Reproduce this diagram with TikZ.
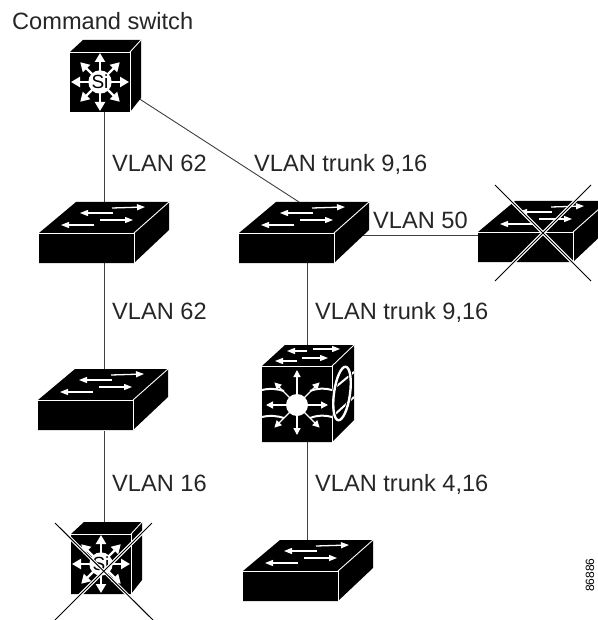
\documentclass[tikz,border=0pt]{standalone}
\usepackage{fontspec}
\setmainfont{Liberation Sans}
\usetikzlibrary{arrows.meta}
\tikzset{
  x=1pt,y=-1pt,
  link/.style={draw=black!75,line width=0.9pt},
  lbl/.style={font=\fontsize{23.6}{26}\selectfont,anchor=base west,inner sep=0pt,text=black!85},
  flow/.style={draw=white,line width=1.3pt,-{Triangle[width=7pt,length=7pt,fill=white]}},
  rflow/.style={draw=white,line width=2.4pt,-{Triangle[width=10pt,length=9pt,fill=white]}},
  sflow/.style={draw=white,line width=1.3pt,-{Triangle[width=6pt,length=8pt,fill=white]}},
  crossw/.style={draw=white,line width=3.2pt},
  crossb/.style={draw=black,line width=1pt},
  edgew/.style={draw=white,line width=0.9pt},
}
% flat workgroup switch: #1 = front-left-top corner
\newcommand{\flatswitch}[1]{%
 \begin{scope}[shift={#1}]
  \fill[black] (0,0)--(37,-31)--(130,-31)--(130,-3)--(95,30)--(0,30)--cycle;
  \draw[edgew] (0,0)--(95,0)--(95,30);
  \draw[edgew] (95,0)--(130,-31);
  \draw[sflow] (74,-20)--(41,-20);
  \draw[sflow] (55,-8)--(22,-8);
  \draw[sflow] (61,-13)--(94,-13);
  \draw[sflow] (73,-25)--(106,-26);
 \end{scope}}
\newcommand{\siswitch}[1]{%
 \begin{scope}[shift={#1}]
  \fill[black] (0,0)--(13,-12)--(71,-12)--(71,46)--(60,60)--(0,60)--cycle;
  \draw[edgew] (0,0)--(60,0)--(60,60);
  \draw[edgew] (60,0)--(71,-12);
  \foreach \a/\l in {0/29,90/29,180/29,270/29,45/28,135/28,225/28,315/28}{\draw[rflow] (30,30)++(\a:9)--++(\a:\l-9);}
  \fill[white] (30,30) circle (11.7);
  \node[font=\fontsize{19}{19}\selectfont,inner sep=0pt,text=black] at (30,30) {Si};
 \end{scope}}
\begin{document}
\begin{tikzpicture}
\useasboundingbox (0,0) rectangle (597,620);
\fill[white] (0,0) rectangle (597,620);
% anchors
\coordinate (cmdb) at (104,112);
\coordinate (cmdr) at (138,98);
\coordinate (a1t) at (104,202);
\coordinate (a1b) at (104,263);
\coordinate (b1t) at (299,202);
\coordinate (b1b) at (307,263);
\coordinate (b1r) at (360,235);
\coordinate (c1l) at (478,235);
\coordinate (a2t) at (104,369);
\coordinate (a2b) at (104,431);
\coordinate (m1t) at (307,345);
\coordinate (m1b) at (307,442);
\coordinate (b3t) at (307,540);
\coordinate (a3t) at (104,523);
% connectors
\draw[link] (cmdb)--(a1t);
\draw[link] (cmdr)--(b1t);
\draw[link] (a1b)--(a2t);
\draw[link] (a2b)--(a3t);
\draw[link] (b1b)--(m1t);
\draw[link] (b1r)--(c1l);
\draw[link] (m1b)--(b3t);
% devices
\siswitch{(70,52)}
\flatswitch{(39,233)}
\flatswitch{(239,233)}
\flatswitch{(478,232)}
\flatswitch{(38,400)}
\flatswitch{(243,571)}
\siswitch{(71,534)}
% multilayer
\fill[black] (262,366)--(285,345)--(354,345)--(354,420)--(332,442)--(262,442)--cycle;
\draw[edgew] (262,366)--(332,366)--(332,442);
\draw[edgew] (332,366)--(354,345);
\draw[edgew,line width=2pt] (262,390) .. controls (270,388) and (278,389) .. (284,391);
\draw[edgew,line width=2pt] (310,391) .. controls (318,388) and (325,388) .. (332,390)--(354,372);
\draw[edgew,line width=2pt] (262,417) .. controls (270,415) and (278,416) .. (284,418);
\draw[edgew,line width=2pt] (310,418) .. controls (318,415) and (325,415) .. (332,417)--(354,397);
\draw[sflow] (307,351)--(287,351);
\draw[sflow] (297,361)--(275,361);
\draw[sflow] (313,349)--(340,349);
\draw[sflow] (302,358)--(328,358);
\foreach \a/\l in {0/22,180/22,90/21,270/26,45/23,135/23,225/23,315/23}{\draw[flow] (297,405)++(\a:9)--++(\a:\l);}
\fill[white] (297,405) circle (11);
\begin{scope}[rotate around={-8:(342,393.5)}]
\draw[black,line width=4pt] (342,393.5) ellipse (8 and 27);
\draw[white,line width=2.4pt] (342,393.5) ellipse (8 and 27);
\end{scope}
% crosses
\coordinate (x1a) at (55,523); \coordinate (x1b) at (153,620);
\coordinate (x1c) at (152,523); \coordinate (x1d) at (55,620);
\draw[crossw] (x1a)--(x1b); \draw[crossw] (x1c)--(x1d);
\draw[crossb] (x1a)--(x1b); \draw[crossb] (x1c)--(x1d);
\coordinate (x2a) at (495,185); \coordinate (x2b) at (591,281);
\coordinate (x2c) at (591,185); \coordinate (x2d) at (495,281);
\draw[crossw] (x2a)--(x2b); \draw[crossw] (x2c)--(x2d);
\draw[crossb] (x2a)--(x2b); \draw[crossb] (x2c)--(x2d);
% labels
\node[lbl] (t0) at (12,30) {Command switch};
\node[lbl] (t1) at (112,172) {VLAN 62};
\node[lbl] (t2) at (254,172) {VLAN trunk 9,16};
\node[lbl] (t3) at (373,228) {VLAN 50};
\node[lbl] (t4) at (112,319) {VLAN 62};
\node[lbl] (t5) at (315,319) {VLAN trunk 9,16};
\node[lbl] (t6) at (112,491) {VLAN 16};
\node[lbl] (t7) at (315,491) {VLAN trunk 4,16};
\node[font=\fontsize{12}{12}\selectfont,rotate=90,anchor=base west,inner sep=0pt] (t8) at (594,592) {86886};
\end{tikzpicture}
\end{document}
